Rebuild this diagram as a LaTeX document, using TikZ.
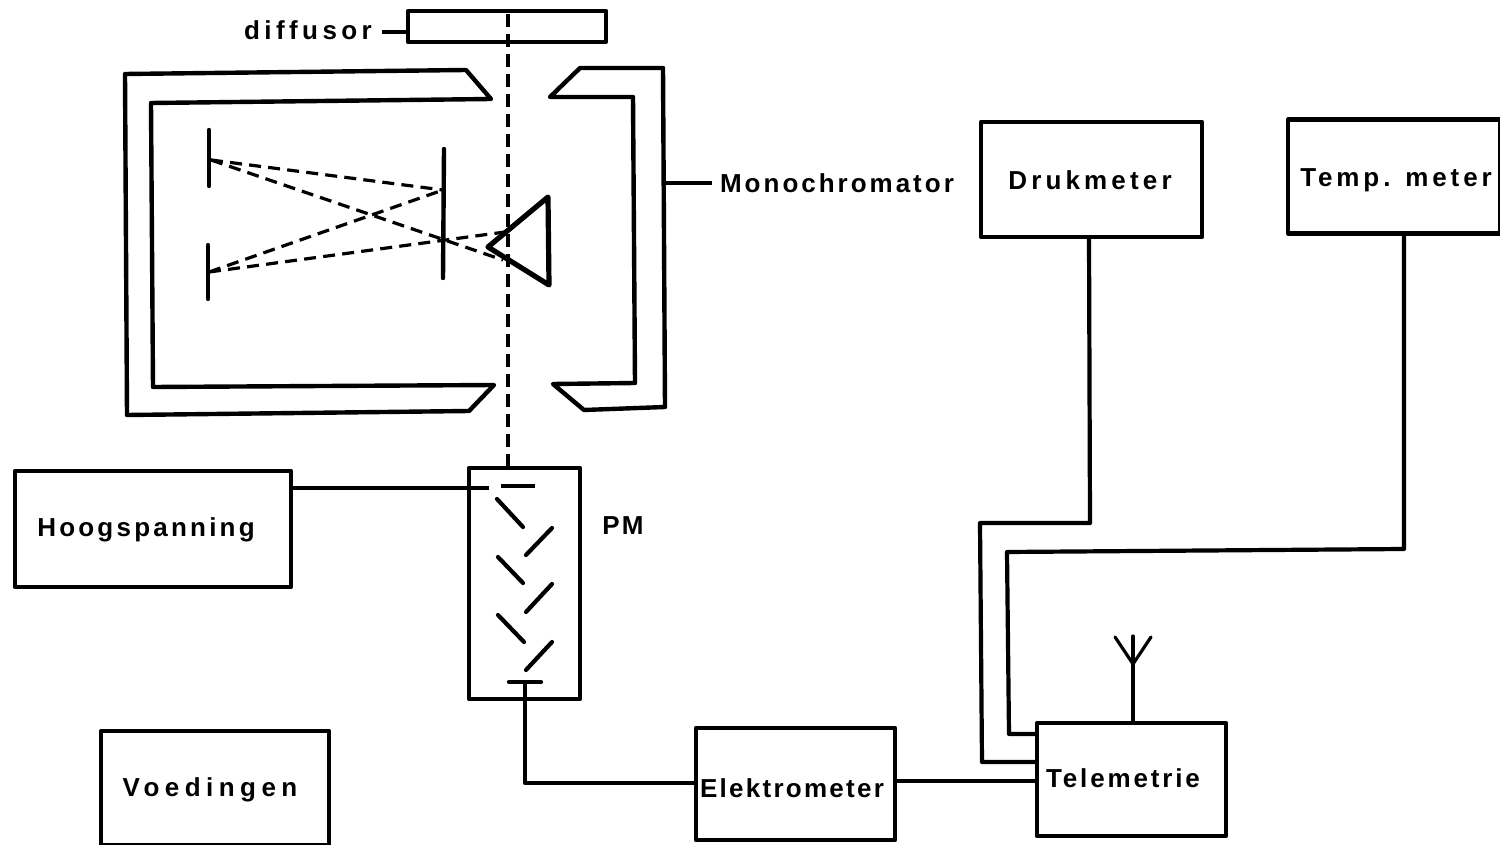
\documentclass[tikz,border=0pt]{standalone}
\usepackage{fontspec}
\setmainfont{Liberation Sans}[Scale=1]
\newfontfamily\lab{Liberation Sans Bold}
\newcommand{\spc}[1]{\addfontfeature{LetterSpace=#1}}
\begin{document}
\begin{tikzpicture}[x=0.5pt,y=-0.5pt,
  stroke/.style={line width=2.2pt,line join=round,line cap=round},
  wire/.style={line width=2.1pt,line join=round},
  thinwire/.style={line width=1.7pt},
  dashray/.style={line width=1.6pt,dash pattern=on 6pt off 3.6pt},
  boxnode/.style={draw,line width=2.1pt,inner sep=0pt,outer sep=0pt,line join=round},
  txt/.style={inner sep=0pt,outer sep=0pt,text=black,font=\lab\fontsize{13}{15}\selectfont}]
\useasboundingbox (0,0) rectangle (1500,845);
\clip (0,0) rectangle (1500,845);
% boxes
\node[boxnode,minimum width=99pt,minimum height=15.5pt] (diff) at (507,26.5) {};
\node[boxnode,minimum width=110.5pt,minimum height=57.5pt] (druk) at (1091.5,179.5) {};
\node[boxnode,minimum width=106pt,minimum height=57pt] (temp) at (1394,176.5) {};
\node[boxnode,minimum width=138pt,minimum height=58pt] (hoog) at (153,529) {};
\node[boxnode,minimum width=55.5pt,minimum height=115.5pt] (pm) at (524.5,583.5) {};
\node[boxnode,minimum width=114pt,minimum height=57pt] (voed) at (215,788) {};
\node[boxnode,minimum width=99.5pt,minimum height=56pt] (elek) at (795.5,784) {};
\node[boxnode,minimum width=94.5pt,minimum height=56.5pt] (tele) at (1131.5,779.5) {};
% labels
\node[txt] (tdiff) at (308,30) {\spc{17}diffusor};
\node[txt] (tmono) at (837,183) {\spc{11.5}Monochromator};
\node[txt] (tdruk) at (1090,180) {\spc{16}Drukmeter};
\node[txt] (ttemp) at (1396,180) {\spc{15}Temp. meter};
\node[txt] (thoog) at (146,530) {\spc{12.4}Hoogspanning};
\node[txt] (tpm) at (623,526) {\spc{9}PM};
\node[txt] (tvoed) at (210,790) {\spc{21}Voedingen};
\node[txt] (telek) at (792,788) {\spc{8.7}Elektrometer};
\node[txt] (ttele) at (1123,778) {\spc{11}Telemetrie};
% monochromator housing
\draw[stroke] (466,70) -- (125,74) -- (127,415) -- (469,411) -- (494,385) -- (153,387) -- (151,103) -- (491,99) -- cycle;
\draw[stroke] (580,68) -- (663,68) -- (665,407) -- (584,410) -- (553,384) -- (635,383) -- (633,97) -- (550,97) -- cycle;
% optics
\draw[stroke] (209,130) -- (209,186);
\draw[stroke] (208,245) -- (208,299);
\draw[stroke] (444,149) -- (443,278);
\draw[line width=2.6pt,line join=round] (548,197) -- (488,247) -- (549,285) -- cycle;
\coordinate (s1) at (211,160);
\coordinate (s2) at (209,272);
\coordinate (m1) at (443,190);
\coordinate (p1) at (503,260);
\coordinate (p2) at (505,232);
\draw[dashray] (s1) -- (m1);
\draw[dashray] (s1) -- (p1);
\draw[dashray] (s2) -- (m1);
\draw[dashray] (s2) -- (p2);
% axis
\coordinate (axt) at (508,14);
\coordinate (axb) at (508,466);
\draw[line width=1.8pt,dash pattern=on 6.5pt off 3.5pt] (axt) -- (axb);
% leaders
\draw[wire] (tdiff.east) ++(10,2) -- (diff.west |- 0,32);
\draw[wire] (temp.south) ++(10,0) -- (1404,549) -- (1007,552) -- (1009,734) -- (tele.west |- 0,734);
\draw[wire] ([xshift=-1.25pt]druk.south) -- (1090,523) -- (980,523) -- (982,762) -- (tele.west |- 0,762);
\draw[wire] (665,183) -- ([xshift=-4pt]tmono.west);
% PM internals
\draw[wire] (hoog.east |- 0,488) -- (489,488);
\draw[wire] (501,486) -- (535,486);
\begin{scope}[line width=2.1pt,line cap=round]
\draw (497,499) -- (523,527);
\draw (552,528) -- (526,555);
\draw (498,557) -- (523,583);
\draw (552,584) -- (526,612);
\draw (498,615) -- (524,642);
\draw (552,642) -- (526,670);
\draw (509,682) -- (541,682);
\end{scope}
\draw[wire] (525,682) -- (525,783) -- (elek.west |- 0,783);
\draw[thinwire] (elek.east |- 0,781) -- (tele.west |- 0,781);
% antenna
\coordinate (af) at (1133,664);
\draw[line width=2.2pt] (tele.north |- 0,723) ++(1.5,0) -- (af);
\draw[line width=1.6pt,line cap=round] (af) -- (1115,637);
\draw[line width=1.6pt,line cap=round] (af) -- (1151,637);
\draw[line width=1.6pt,line cap=round] (af) -- (1133,636);
\end{tikzpicture}
\end{document}
